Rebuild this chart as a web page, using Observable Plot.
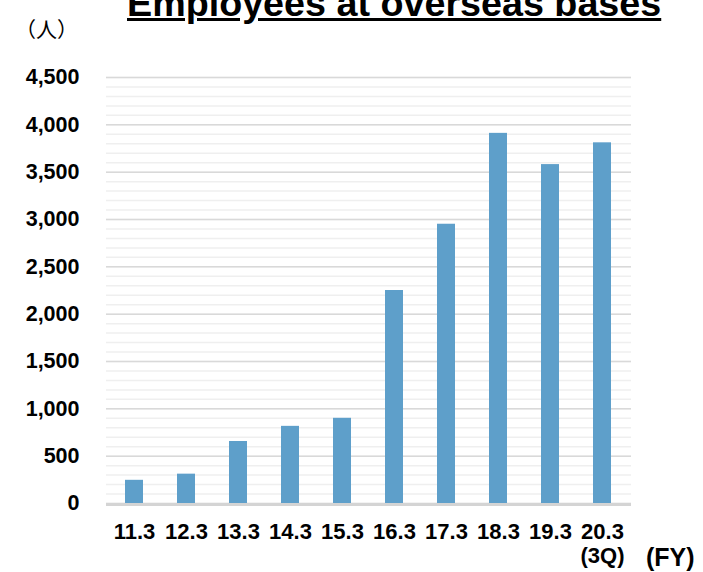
<!DOCTYPE html>
<html><head><meta charset="utf-8">
<script src="https://cdn.jsdelivr.net/npm/d3@7"></script>
<script src="https://cdn.jsdelivr.net/npm/@observablehq/plot@0.6"></script>
<style>
html,body{margin:0;padding:0;background:#fff;}
#wrap{position:relative;width:703px;height:572px;overflow:hidden;font-family:"Liberation Sans",Arial,sans-serif;color:#000;}
#chart{position:absolute;left:0;top:0;}
#title{position:absolute;left:127px;top:-14.7px;font-size:37.7px;line-height:1;font-weight:bold;text-decoration:underline;white-space:nowrap;}
#unit{position:absolute;left:15px;top:18px;font-family:"Noto Sans CJK JP";font-size:21px;line-height:1;white-space:nowrap;}
#fy{position:absolute;left:646px;top:545px;font-size:25px;font-weight:bold;line-height:1;white-space:nowrap;}
</style></head>
<body>
<div id="wrap">
  <div id="chart"></div>
  <div id="title">Employees at overseas bases</div>
  <div id="unit">（人）</div>
  <div id="fy">(FY)</div>
</div>
<script>
const years = ["11.3","12.3","13.3","14.3","15.3","16.3","17.3","18.3","19.3","20.3"];
const employees = [245, 310, 655, 815, 900, 2250, 2950, 3910, 3580, 3810];
const xLabels = ["11.3","12.3","13.3","14.3","15.3","16.3","17.3","18.3","19.3","20.3\n(3Q)"];
const yTicks = [0, 500, 1000, 1500, 2000, 2500, 3000, 3500, 4000, 4500];
const minorTicks = d3.range(0, 4501, 100);

const data = years.map((y, i) => ({year: y, value: employees[i]}));

const chart = Plot.plot({
  width: 703,
  height: 572,
  marginLeft: 106,
  marginRight: 72,
  marginTop: 77,
  marginBottom: 69,
  style: {fontFamily: "Liberation Sans, Arial, sans-serif", color: "#000", background: "#fff"},
  x: {domain: years, paddingInner: 0.65, paddingOuter: 0.325, axis: null},
  y: {domain: [0, 4500], axis: null},
  marks: [
    Plot.ruleY(minorTicks, {stroke: "#efefef", strokeWidth: 1.5}),
    Plot.ruleY(yTicks, {stroke: "#d9d9d9", strokeWidth: 1.5}),
    Plot.barY(data, {x: "year", y: "value", fill: "#5e9fca"}),
    Plot.ruleY([0], {stroke: "#d4d4d4", strokeWidth: 3, dy: 1}),
    Plot.axisX({label: null, tickSize: 0, tickPadding: 19, fontSize: 22, fontWeight: "bold", lineHeight: 1.08,
      tickFormat: d => xLabels[years.indexOf(d)]}),
    Plot.axisY({label: null, ticks: yTicks, tickSize: 0, tickPadding: 27, fontSize: 21.5, fontWeight: "bold",
      tickFormat: d3.format(",")})
  ]
});
document.getElementById("chart").appendChild(chart);
</script>
</body></html>
